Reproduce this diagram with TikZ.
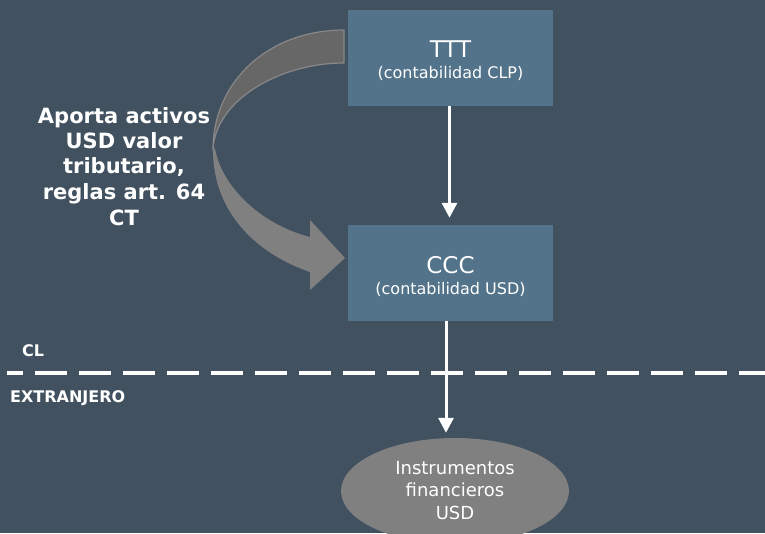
\documentclass[tikz,border=0pt]{standalone}
\usepackage{fontspec}
\setmainfont{DejaVu Sans}
\usetikzlibrary{arrows.meta,shapes.geometric}
\definecolor{bgc}{HTML}{415160}
\definecolor{boxc}{HTML}{527389}
\definecolor{darkg}{HTML}{676767}
\definecolor{lightg}{HTML}{808080}
\definecolor{rimg}{HTML}{888888}
\tikzset{
  boxnode/.style={fill=boxc, draw=none, minimum width=205pt, minimum height=96pt, inner sep=0pt},
  ellnode/.style={ellipse, fill=lightg, draw=none, minimum width=228pt, minimum height=106pt, inner sep=0pt},
  txt/.style={text=white, anchor=base, inner sep=0pt},
  bigtxt/.style={txt, font=\fontsize{23}{26}\selectfont},
  subtxt/.style={txt, font=\fontsize{16}{20}\selectfont},
  elltxt/.style={txt, font=\fontsize{18}{22}\selectfont},
  boldtxt/.style={txt, font=\bfseries\fontsize{21}{25}\selectfont},
  smalltxt/.style={txt, anchor=base west, font=\bfseries\fontsize{16}{20}\selectfont},
  conn/.style={draw=white, line width=3pt, -{Triangle[length=15pt,width=15pt]}},
  border/.style={draw=white, line width=4.5pt, dash pattern=on 32pt off 12pt, dash phase=16pt}
}
\begin{document}
\begin{tikzpicture}[x=1pt,y=-1pt]
\fill[bgc] (0,0) rectangle (765,533);
\useasboundingbox (0,0) rectangle (765,533);
\begin{scope}
\clip (0,0) rectangle (765,533);

% curved block arrow (lower part with head)
\fill[lightg] (213,150) .. controls (213,215) and (260,255) .. (310,272)
  -- (310,290) -- (345,258) -- (310,220) -- (310,237)
  .. controls (256,223) and (220,182) .. (215,148) -- cycle;
% upper band
\filldraw[fill=darkg, draw=rimg, line width=1.2pt, line join=round]
  (344,30) .. controls (270,30) and (213,80) .. (213,150)
  .. controls (215,100) and (280,63) .. (344,63) -- cycle;

% boxes
\node[boxnode] (ttt) at (450.5,57.5) {};
\node[boxnode] (ccc) at (450.5,273) {};
\node[ellnode] (ins) at (455,491) {};

\node[bigtxt] (tttA) at (450.5,57) {TTT};
\node[subtxt] (tttB) at (450.5,78) {(contabilidad CLP)};
\node[bigtxt] (cccA) at (450.5,273) {CCC};
\node[subtxt] (cccB) at (450.5,294) {(contabilidad USD)};

\node[elltxt] (insA) at (455,474) {Instrumentos};
\node[elltxt] (insB) at (455,496.5) {financieros};
\node[elltxt] (insC) at (455,519) {USD};

% label of curved arrow
\node[boldtxt] (l1) at (124,123.3) {Aporta activos};
\node[boldtxt] (l2) at (124,148.6) {USD valor};
\node[boldtxt] (l3) at (124,173.9) {tributario,};
\node[boldtxt] (l4) at (124,199.5) {reglas art. 64};
\node[boldtxt] (l5) at (124,225.5) {CT};

% connectors
\draw[conn, shorten >=7pt] ([xshift=-1pt]ttt.south) -- ([xshift=-1pt]ccc.north);
\draw[conn, shorten >=5pt] ([xshift=-4.5pt]ccc.south) -- ([xshift=-4.5pt]ccc.south |- ins.north);

% border line
\coordinate (bl) at (7,373);
\coordinate (br) at (765,373);
\draw[border] (bl) -- (br);
\node[smalltxt] (cl) at (22,356.7) {CL};
\node[smalltxt] (ext) at (10,402.7) {EXTRANJERO};
\end{scope}
\end{tikzpicture}
\end{document}
